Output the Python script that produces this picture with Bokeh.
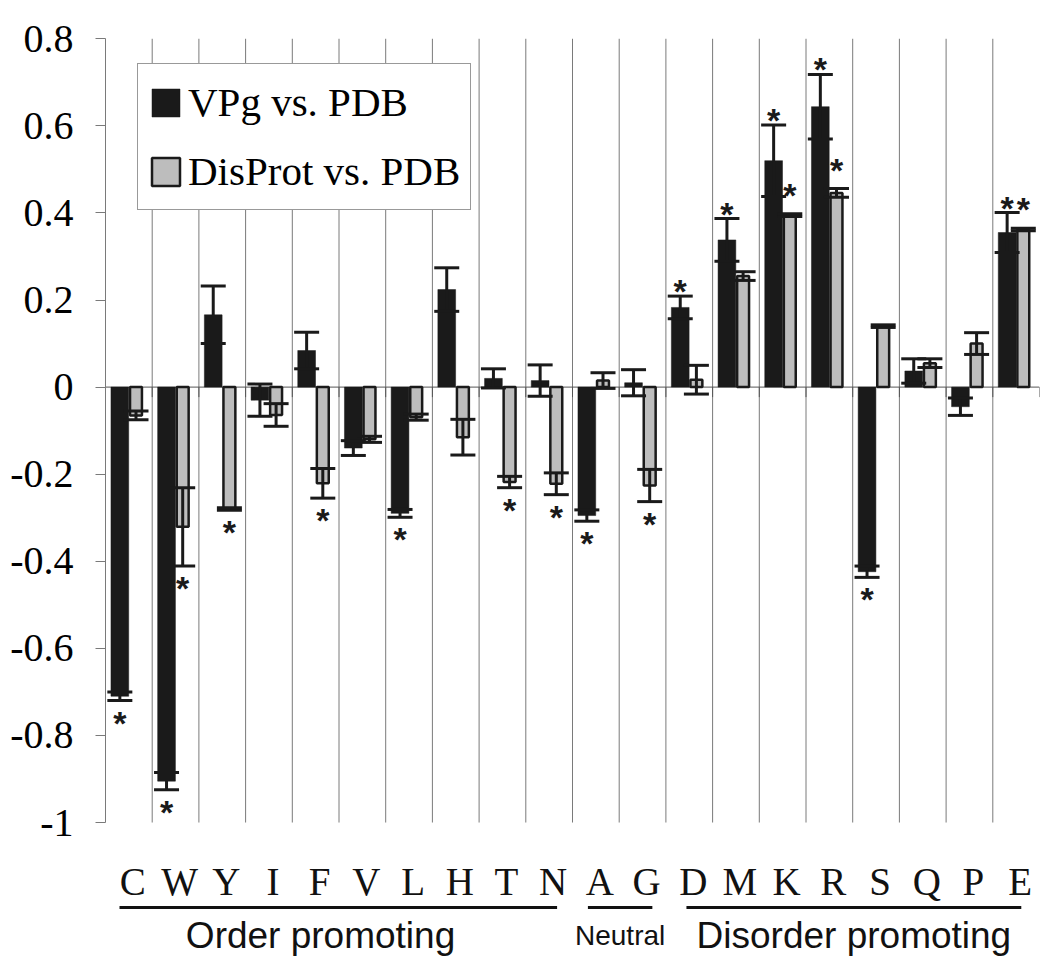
from bokeh.plotting import figure
from bokeh.models import ColumnDataSource, Range1d, FixedTicker, NumeralTickFormatter
from bokeh.core.properties import value
from bokeh.embed import file_html
from bokeh.resources import INLINE

# ---------------- data ----------------
residues = ["C", "W", "Y", "I", "F", "V", "L", "H", "T", "N",
            "A", "G", "D", "M", "K", "R", "S", "Q", "P", "E"]

vpg_vs_pdb = [-0.710, -0.905, 0.166, -0.030, 0.084, -0.140, -0.290, 0.224, 0.020, 0.015,
              -0.295, 0.010, 0.183, 0.338, 0.520, 0.644, -0.424, 0.037, -0.045, 0.355]
vpg_err = [0.010, 0.020, 0.066, 0.037, 0.042, 0.017, 0.009, 0.050, 0.022, 0.036,
           0.013, 0.030, 0.026, 0.049, 0.082, 0.074, 0.013, 0.028, 0.020, 0.046]
vpg_sig = [1, 1, 0, 0, 0, 0, 1, 0, 0, 0, 1, 0, 1, 1, 1, 1, 1, 0, 0, 1]

disprot_vs_pdb = [-0.065, -0.321, -0.280, -0.064, -0.221, -0.120, -0.069, -0.115, -0.218, -0.222,
                  0.015, -0.226, 0.017, 0.255, 0.395, 0.446, 0.140, 0.055, 0.100, 0.362]
disprot_err = [0.010, 0.090, 0.003, 0.026, 0.034, 0.007, 0.007, 0.041, 0.013, 0.025,
               0.018, 0.037, 0.033, 0.010, 0.003, 0.010, 0.003, 0.010, 0.025, 0.003]
disprot_sig = [0, 1, 1, 0, 1, 0, 0, 0, 1, 1, 0, 1, 0, 0, 1, 1, 0, 0, 0, 1]

group_names = ["Order promoting", "Neutral", "Disorder promoting"]
group_first = ["C", "A", "D"]
group_last = ["N", "G", "E"]

y_ticks = [-1, -0.8, -0.6, -0.4, -0.2, 0, 0.2, 0.4, 0.6, 0.8]
series_names = ["VPg vs. PDB", "DisProt vs. PDB"]

# ---------------- layout / style ----------------
W, H = 1045, 960
BL, BR, BT, BB = 105, 6, 31, 0
Y_MIN, Y_MAX = -1.0, 0.8
Y_START, Y_END = -1.3169, 0.8167
N = len(residues)
PPU_Y = (H - BT - BB) / (Y_END - Y_START)
PPU_X = (W - BL - BR) / N

BLACK = "#1a1a1a"
GRAY = "#bdbdbd"
GRID = "#7a7a7a"
SERIF = "Liberation Serif"
SANS = "Liberation Sans"

B_OFF, B_W = 0.307, 0.38      # black bar centre / width within a category
G_OFF, G_W = 0.653, 0.255     # gray bar centre / width within a category
CAP_HALF = 12.5 / PPU_X
AST_SIZE = 34
AST_CENTER = 7                # asterisk centre above the text anchor (px)
TXT_SHIFT = 13                # renderer's baseline shift for large text (px)

idx = list(range(N))
xb = [i + B_OFF for i in idx]
xg = [i + G_OFF for i in idx]

p = figure(width=W, height=H, x_range=Range1d(0, N), y_range=Range1d(Y_START, Y_END),
           output_backend="svg", toolbar_location=None, x_axis_location=None,
           min_border_left=BL, min_border_right=BR, min_border_top=BT, min_border_bottom=BB,
           outline_line_color=None, background_fill_color="white")
p.grid.visible = False

# y axis
p.yaxis.bounds = (Y_MIN, Y_MAX)
p.yaxis.ticker = FixedTicker(ticks=y_ticks)
p.yaxis.formatter = NumeralTickFormatter(format="0.[0]")
p.yaxis.minor_tick_line_color = None
p.yaxis.major_tick_in = 0
p.yaxis.major_tick_out = 10
p.yaxis.major_tick_line_color = GRID
p.yaxis.axis_line_color = GRID
p.yaxis.major_label_standoff = 22
p.yaxis.major_label_text_font = SERIF
p.yaxis.major_label_text_font_style = "normal"
p.yaxis.major_label_text_font_size = "40px"
p.yaxis.major_label_text_color = "black"

# vertical gridlines at category boundaries
bounds_x = list(range(1, N))
p.segment(x0=bounds_x, y0=[Y_MIN] * len(bounds_x), x1=bounds_x, y1=[Y_MAX] * len(bounds_x),
          line_color=GRID, line_width=1)
# category axis (zero line) and its tick marks
tick_x = list(range(0, N + 1))
p.segment(x0=tick_x, y0=[0] * len(tick_x), x1=tick_x, y1=[-10 / PPU_Y] * len(tick_x),
          line_color="#555555", line_width=1)
p.segment(x0=[0], y0=[0], x1=[N], y1=[0], line_color="#555555", line_width=1)

src = ColumnDataSource(dict(xb=xb, xg=xg, vpg=vpg_vs_pdb, dis=disprot_vs_pdb))
p.vbar(x="xb", top="vpg", bottom=0, width=B_W, source=src, fill_color=BLACK,
       line_color=BLACK, line_width=0.5, legend_label=series_names[0])
p.vbar(x="xg", top="dis", bottom=0, width=G_W, source=src, fill_color=GRAY,
       line_color=BLACK, line_width=2.5, legend_label=series_names[1])

# error bars
ex = xb + xg
ev = vpg_vs_pdb + disprot_vs_pdb
ee = vpg_err + disprot_err
lo = [v - e for v, e in zip(ev, ee)]
hi = [v + e for v, e in zip(ev, ee)]
p.segment(x0=ex, y0=lo, x1=ex, y1=hi, line_color=BLACK, line_width=3)
for ys in (lo, hi):
    p.segment(x0=[x - CAP_HALF for x in ex], y0=ys, x1=[x + CAP_HALF for x in ex], y1=ys,
              line_color=BLACK, line_width=3, line_cap="butt")

# significance asterisks
ast_x, ast_y, ast_off = [], [], []
for xs, vals, errs, sig, pos_gap in ((xb, vpg_vs_pdb, vpg_err, vpg_sig, 12),
                                      (xg, disprot_vs_pdb, disprot_err, disprot_sig, 26)):
    for x, v, e, s in zip(xs, vals, errs, sig):
        if not s:
            continue
        ast_x.append(x)
        if v < 0:
            ast_y.append(v - e)
            ast_off.append(15 + AST_CENTER)
        else:
            ast_y.append(v + e)
            ast_off.append(-pos_gap + AST_CENTER)
p.text(x=ast_x, y=ast_y, text=["*"] * len(ast_x), y_offset=ast_off,
       text_align="center", text_baseline="alphabetic",
       text_font=value(SANS), text_font_style="bold",
       text_font_size=f"{AST_SIZE}px", text_color=BLACK)

# residue letters
LETTER_Y = Y_MIN - (72 - TXT_SHIFT) / PPU_Y
p.text(x=[i + 0.5 for i in idx], y=[LETTER_Y] * N, text=residues, x_offset=4,
       text_align="center", text_baseline="alphabetic",
       text_font=value(SERIF), text_font_size="39px", text_color="#111111")

# group underlines and labels
UL_Y = Y_MIN - 85 / PPU_Y
GL_Y = Y_MIN - (126 - TXT_SHIFT) / PPU_Y
pad_l = [0.20, 0.17, 0.06]
pad_r = [0.17, 0.21, 0.11]
label_shift = [-0.38, 0.0, 0.0]
label_size = ["37px", "28px", "37px"]
ux0 = [residues.index(f) + 0.5 - pl for f, pl in zip(group_first, pad_l)]
ux1 = [residues.index(l) + 0.5 + pr for l, pr in zip(group_last, pad_r)]
p.segment(x0=ux0, y0=[UL_Y] * 3, x1=ux1, y1=[UL_Y] * 3, line_color="#111111", line_width=3)
gsrc = ColumnDataSource(dict(x=[(a + b) / 2 + s for a, b, s in zip(ux0, ux1, label_shift)],
                             y=[GL_Y] * 3, t=group_names, fs=label_size))
p.text(x="x", y="y", text="t", text_font_size="fs", source=gsrc,
       text_align="center", text_baseline="alphabetic",
       text_font=value(SANS), text_color="#111111")

# legend
lg = p.legend[0]
lg.location = "top_left"
lg.margin = 32
lg.padding = 10
lg.spacing = 13
lg.glyph_width = 35
lg.glyph_height = 35
lg.label_standoff = 5
lg.label_height = 56
lg.label_text_font = SERIF
lg.label_text_font_size = "41px"
lg.label_text_color = "black"
lg.border_line_color = "#333333"
lg.border_line_width = 1
lg.background_fill_alpha = 1.0

open("out.html", "w").write(file_html(p, INLINE))
